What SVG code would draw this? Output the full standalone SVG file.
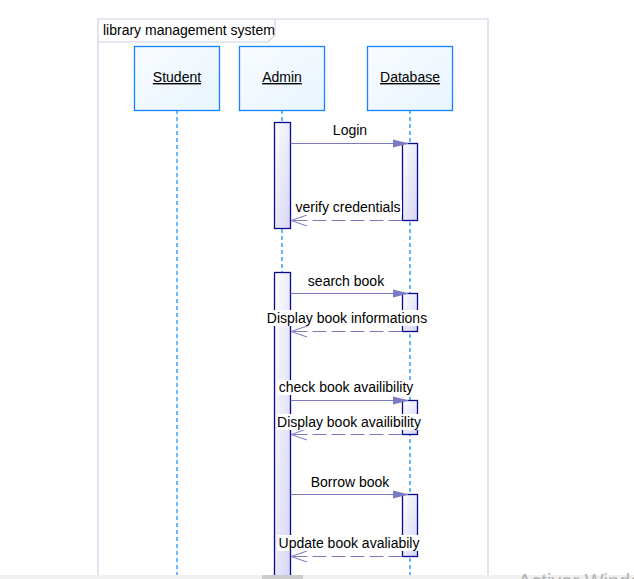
<svg xmlns="http://www.w3.org/2000/svg" width="634" height="579" viewBox="0 0 634 579">
<defs>
<linearGradient id="boxg" x1="0" y1="0" x2="1" y2="1"><stop offset="0" stop-color="#f9fcff"/><stop offset="1" stop-color="#e9f5ff"/></linearGradient>
<linearGradient id="actg" x1="0" y1="0" x2="1" y2="1"><stop offset="0" stop-color="#ffffff"/><stop offset="1" stop-color="#d4d4f6"/></linearGradient>
<marker id="fill" markerWidth="16" markerHeight="10" refX="15" refY="5" orient="auto" markerUnits="userSpaceOnUse"><path d="M0,1 L16,5 L0,9 Z" fill="#7a7ac2"/></marker>
<marker id="open" markerWidth="17" markerHeight="12" refX="16" refY="6" orient="auto" markerUnits="userSpaceOnUse"><path d="M0,0.5 L16,6 L0,11.5" fill="none" stroke="#7a7ac2" stroke-width="1"/></marker>
<style>
text{font-family:"Liberation Sans",Arial,sans-serif;font-size:14px;fill:#000}
.box{fill:url(#boxg);stroke:#1284ff;stroke-width:1.3}
.life{stroke:#1284ff;stroke-width:1.2;stroke-dasharray:4,3;fill:none}
.act{fill:url(#actg);stroke:#0a0a90;stroke-width:1.3}
.msg{stroke:#7a7ac2;stroke-width:1.2;fill:none}
.ret{stroke:#7a7ac2;stroke-width:1.2;fill:none;stroke-dasharray:14,5}
.lbl{text-anchor:middle}
.bg{fill:#fff}
.frame{fill:none;stroke:#cfcfe6;stroke-width:1.2}
</style>
</defs>
<rect width="634" height="579" fill="#fff"/>
<g id="frame">
<path class="frame" d="M98,575 V19 H488 V575"/>
<path class="frame" d="M98,42 H268 L275,35 V19"/>
<text x="103" y="35">library management system</text>
</g>
<g id="lifelines">
<line class="life" x1="177" y1="110" x2="177" y2="575"/>
<line class="life" x1="282" y1="110" x2="282" y2="575"/>
<line class="life" x1="410" y1="110" x2="410" y2="575"/>
</g>
<g id="student"><rect class="box" x="134.5" y="46.5" width="85" height="64"/><text class="lbl" x="177" y="82" text-decoration="underline">Student</text></g>
<g id="admin"><rect class="box" x="239.5" y="46.5" width="85" height="64"/><text class="lbl" x="282" y="82" text-decoration="underline">Admin</text></g>
<g id="database"><rect class="box" x="367.5" y="46.5" width="85" height="64"/><text class="lbl" x="410" y="82" text-decoration="underline">Database</text></g>
<g id="activations">
<rect class="act" x="274.5" y="122.5" width="16" height="106"/>
<rect class="act" x="402.5" y="143.5" width="15" height="77"/>
<rect class="act" x="274.5" y="272.5" width="16" height="310"/>
<rect class="act" x="402.5" y="293.5" width="15" height="38"/>
<rect class="act" x="402.5" y="400.5" width="15" height="34"/>
<rect class="act" x="402.5" y="494.5" width="15" height="62"/>
</g>
<g id="connectors">
<line class="msg" x1="290.5" y1="143.5" x2="408" y2="143.5" marker-end="url(#fill)"/>
<line class="ret" x1="402.5" y1="220.5" x2="291" y2="220.5" marker-end="url(#open)"/>
<line class="msg" x1="290.5" y1="293.5" x2="408" y2="293.5" marker-end="url(#fill)"/>
<line class="ret" x1="402.5" y1="331.5" x2="291" y2="331.5" marker-end="url(#open)"/>
<line class="msg" x1="290.5" y1="400.5" x2="408" y2="400.5" marker-end="url(#fill)"/>
<line class="ret" x1="402.5" y1="434.5" x2="291" y2="434.5" marker-end="url(#open)"/>
<line class="msg" x1="290.5" y1="494.5" x2="408" y2="494.5" marker-end="url(#fill)"/>
<line class="ret" x1="402.5" y1="556.5" x2="291" y2="556.5" marker-end="url(#open)"/>
</g>
<g id="labels">
<text class="lbl" x="350" y="135">Login</text>
<rect class="bg" x="294" y="200" width="108" height="15"/>
<text class="lbl" x="348" y="212">verify credentials</text>
<text class="lbl" x="346" y="286">search book</text>
<rect class="bg" x="266" y="310" width="162" height="16"/>
<text class="lbl" x="347" y="323">Display book informations</text>
<rect class="bg" x="277" y="380" width="138" height="15"/>
<text class="lbl" x="346" y="392">check book availibility</text>
<rect class="bg" x="277" y="414" width="145" height="16"/>
<text class="lbl" x="349" y="427">Display book availibility</text>
<text class="lbl" x="350" y="487">Borrow book</text>
<rect class="bg" x="277" y="535" width="144" height="16"/>
<text class="lbl" x="349" y="548">Update book avaliabily</text>
</g>
<g id="scrollbar">
<rect x="0" y="575" width="634" height="4" fill="#f0f0f0"/>
<rect x="262" y="575" width="41" height="4" fill="#cdcdcd"/>
<text x="518" y="588" style="font-size:20px;fill:#b4b4b4">Activer Windows</text>
</g>
</svg>
